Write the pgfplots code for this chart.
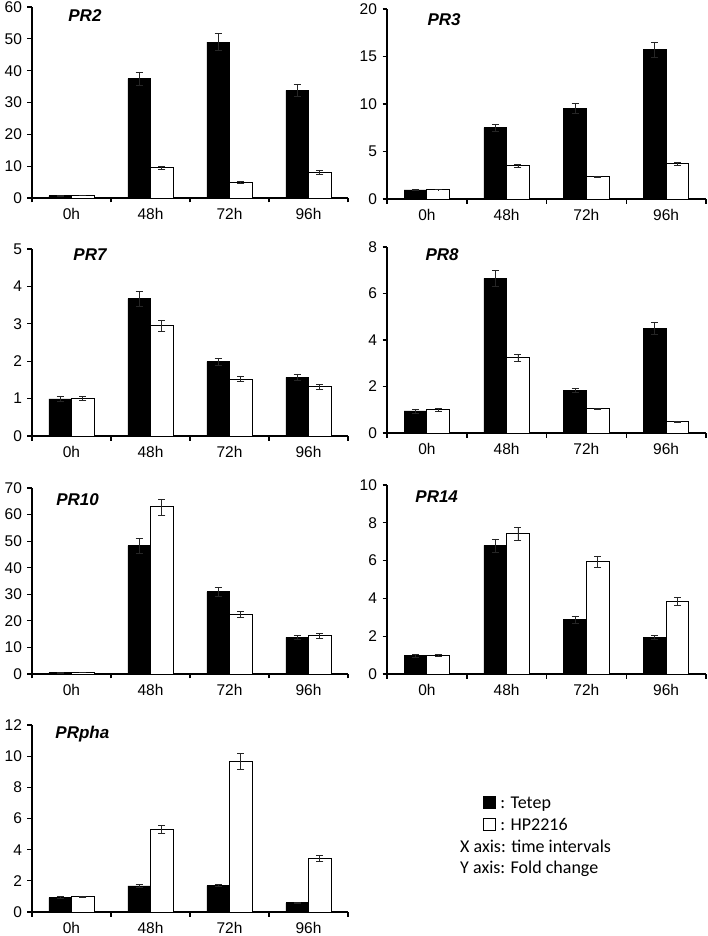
\documentclass[border=0pt]{standalone}
\usepackage{pgfplots}
\usepackage{pgfplotstable}
\usepackage{fontspec}
\setmainfont{Liberation Sans}
\newfontfamily\legfont{Carlito}
\pgfplotsset{compat=1.18}

\pgfplotstableread{
x t te h he
0.5 0.7 0.2 0.9 0.1
1.5 37.5 2.1 9.5 0.5
2.5 49.0 2.7 5.0 0.3
3.5 33.8 1.8 8.1 0.5
}\prtwo
\pgfplotstableread{
x t te h he
0.5 0.95 0.05 1.0 0.03
1.5 7.5 0.35 3.5 0.15
2.5 9.56 0.5 2.35 0.08
3.5 15.7 0.8 3.7 0.15
}\prthree
\pgfplotstableread{
x t te h he
0.5 0.99 0.06 1.0 0.05
1.5 3.67 0.2 2.95 0.15
2.5 1.99 0.09 1.52 0.07
3.5 1.57 0.09 1.32 0.06
}\prseven
\pgfplotstableread{
x t te h he
0.5 0.95 0.09 1.0 0.06
1.5 6.65 0.33 3.25 0.15
2.5 1.84 0.08 1.04 0.03
3.5 4.5 0.24 0.5 0.02
}\preight
\pgfplotstableread{
x t te h he
0.5 0.5 0.2 0.6 0.1
1.5 48.3 2.7 62.9 3.0
2.5 30.9 1.7 22.5 1.2
3.5 13.8 0.8 14.4 0.9
}\prten
\pgfplotstableread{
x t te h he
0.5 0.97 0.08 1.0 0.05
1.5 6.8 0.35 7.43 0.35
2.5 2.87 0.2 5.95 0.3
3.5 1.95 0.1 3.85 0.22
}\prfourteen
\pgfplotstableread{
x t te h he
0.5 0.93 0.05 1.0 0.03
1.5 1.67 0.08 5.3 0.28
2.5 1.7 0.07 9.68 0.5
3.5 0.59 0.03 3.45 0.17
}\prpha

\pgfplotsset{
  prpanel/.style={
    scale only axis,
    anchor=north west,
    ybar=0pt, bar width=0.285,
    xmin=0, xmax=4, ymin=0,
    enlargelimits=false,
    axis x line=bottom, axis y line=left,
    axis line style={-, line width=1.5pt},
    tick align=outside,
    xtick={0.5,1.5,2.5,3.5},
    xticklabels={0h,48h,72h,96h},
    major x tick style={draw=none},
    minor xtick={0,1,2,3,4},
    minor tick length=4.5pt,
    minor x tick style={line width=1.5pt, black},
    major tick length=4.5pt,
    major y tick style={line width=1.2pt, black},
    /pgf/number format/assume math mode=true,
    /pgf/number format/fixed,
    ticklabel style={font=\fontsize{15.5}{17}\selectfont},
    xticklabel style={yshift=-2pt},
    yticklabel style={xshift=-2pt},
    error bars/y dir=both,
    error bars/y explicit,
    error bars/error bar style={line width=0.6pt, black!85},
    error bars/error mark options={rotate=90, mark size=3.5pt, line width=0.6pt, black!85},
    clip=false,
  },
  blackbar/.style={fill=black, draw=black, line width=0.8pt},
  whitebar/.style={fill=white, draw=black, line width=0.8pt},
}
\tikzset{prtitle/.style={anchor=west, font=\fontsize{17}{19}\selectfont\bfseries\itshape}}

\begin{document}
\begin{tikzpicture}
\useasboundingbox (0pt,0pt) rectangle (708pt,-936pt);

% PR2
\begin{axis}[prpanel, at={(32pt,-7pt)}, width=316pt, height=191pt, ymax=60, ytick distance=10]
\addplot[blackbar] table[x=x, y=t, y error=te] {\prtwo};
\addplot[whitebar] table[x=x, y=h, y error=he] {\prtwo};
\node[prtitle] at (axis description cs:0.104,0.953) {PR2};
\end{axis}

% PR3
\begin{axis}[prpanel, at={(387pt,-9pt)}, width=319pt, height=190pt, ymax=20, ytick distance=5]
\addplot[blackbar] table[x=x, y=t, y error=te] {\prthree};
\addplot[whitebar] table[x=x, y=h, y error=he] {\prthree};
\node[prtitle] at (axis description cs:0.116,0.942) {PR3};
\end{axis}

% PR7
\begin{axis}[prpanel, at={(32pt,-249pt)}, width=316pt, height=187pt, ymax=5, ytick distance=1]
\addplot[blackbar] table[x=x, y=t, y error=te] {\prseven};
\addplot[whitebar] table[x=x, y=h, y error=he] {\prseven};
\node[prtitle] at (axis description cs:0.12,0.968) {PR7};
\end{axis}

% PR8
\begin{axis}[prpanel, at={(387pt,-247pt)}, width=319pt, height=186pt, ymax=8, ytick distance=2]
\addplot[blackbar] table[x=x, y=t, y error=te] {\preight};
\addplot[whitebar] table[x=x, y=h, y error=he] {\preight};
\node[prtitle] at (axis description cs:0.11,0.957) {PR8};
\end{axis}

% PR10
\begin{axis}[prpanel, at={(32pt,-488pt)}, width=316pt, height=186pt, ymax=70, ytick distance=10]
\addplot[blackbar] table[x=x, y=t, y error=te] {\prten};
\addplot[whitebar] table[x=x, y=h, y error=he] {\prten};
\node[prtitle] at (axis description cs:0.066,0.935) {PR10};
\end{axis}

% PR14
\begin{axis}[prpanel, at={(387pt,-485pt)}, width=319pt, height=189pt, ymax=10, ytick distance=2]
\addplot[blackbar] table[x=x, y=t, y error=te] {\prfourteen};
\addplot[whitebar] table[x=x, y=h, y error=he] {\prfourteen};
\node[prtitle] at (axis description cs:0.078,0.937) {PR14};
\end{axis}

% PRpha
\begin{axis}[prpanel, at={(32pt,-725pt)}, width=316pt, height=187pt, ymax=12, ytick distance=2,
  legend style={legend cell align=left, draw=none, fill=none,
    at={(axis description cs:1.427,0.626)}, anchor=north west,
    font=\legfont\fontsize{18}{21}\selectfont, row sep=5pt, inner sep=0pt,
    nodes={inner xsep=5pt, inner ysep=0pt, text height=13pt, text depth=4pt}},
  legend image code/.code={\draw[#1, line width=0.8pt] (0pt,-4.5pt) rectangle (11.5pt,7pt);},
]
\addplot[blackbar] table[x=x, y=t, y error=te] {\prpha};
\addlegendentry{: Tetep}
\addplot[whitebar] table[x=x, y=h, y error=he] {\prpha};
\addlegendentry{: HP2216}
\node[prtitle] at (axis description cs:0.063,0.952) {PRpha};
\end{axis}

\node[anchor=base west, inner sep=0pt, font=\legfont\fontsize{18}{21}\selectfont] at (460pt,-852pt) {X axis: time intervals};
\node[anchor=base west, inner sep=0pt, font=\legfont\fontsize{18}{21}\selectfont] at (460pt,-873pt) {Y axis: Fold change};
\end{tikzpicture}
\end{document}
